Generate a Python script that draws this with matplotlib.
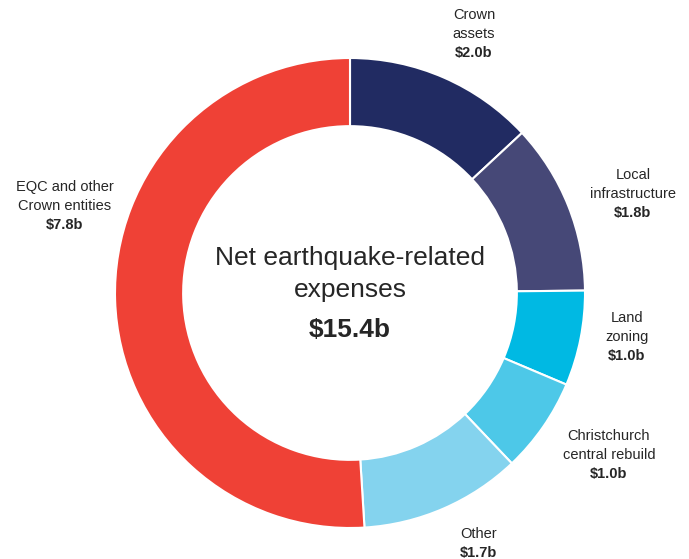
import matplotlib.pyplot as plt

plt.rcParams['font.family'] = ['Liberation Sans', 'DejaVu Sans']

# data
names = ['Crown\nassets', 'Local\ninfrastructure', 'Land\nzoning',
         'Christchurch\ncentral rebuild', 'Other', 'EQC and other\nCrown entities']
values = [2.0, 1.8, 1.0, 1.0, 1.7, 7.8]
total_label = '$15.4b'
colors = ['#212b62', '#464877', '#00b9e3', '#4dc8e8', '#84d3ee', '#ef4136']

# label anchor points (pixels from top-left), top line centre
label_pos = [(474, 15), (633, 175), (627, 318), (609, 436), (479, 534), (65, 187)]

fig = plt.figure(figsize=(6.89, 5.59), dpi=100)
ax = fig.add_axes([0, 0, 1, 1])

cx, cy, r = 350, 559 - 293, 235
ax.pie(values, colors=colors, startangle=90, counterclock=False,
       center=(cx, cy), radius=r,
       wedgeprops=dict(width=r * 0.29, edgecolor='white', linewidth=1.5))
ax.set_xlim(0, 689)
ax.set_ylim(0, 559)
ax.set_aspect('equal')
ax.axis('off')

line_h = 19
for name, val, (x, y) in zip(names, values, label_pos):
    lines = name.split('\n')
    for i, ln in enumerate(lines):
        ax.text(x, 559 - (y + i * line_h), ln, ha='center', va='center',
                fontsize=10.5, color='#262626')
    ax.text(x, 559 - (y + len(lines) * line_h), f'${val:.1f}b', ha='center',
            va='center', fontsize=10.5, fontweight='bold', color='#262626')

ax.text(cx, 559 - 258, 'Net earthquake-related', ha='center', va='center',
        fontsize=19, color='#262626')
ax.text(cx, 559 - 290, 'expenses', ha='center', va='center',
        fontsize=19, color='#262626')
ax.text(cx, 559 - 330, total_label, ha='center', va='center',
        fontsize=19, fontweight='bold', color='#262626')

fig.savefig('out.png', dpi=100)
